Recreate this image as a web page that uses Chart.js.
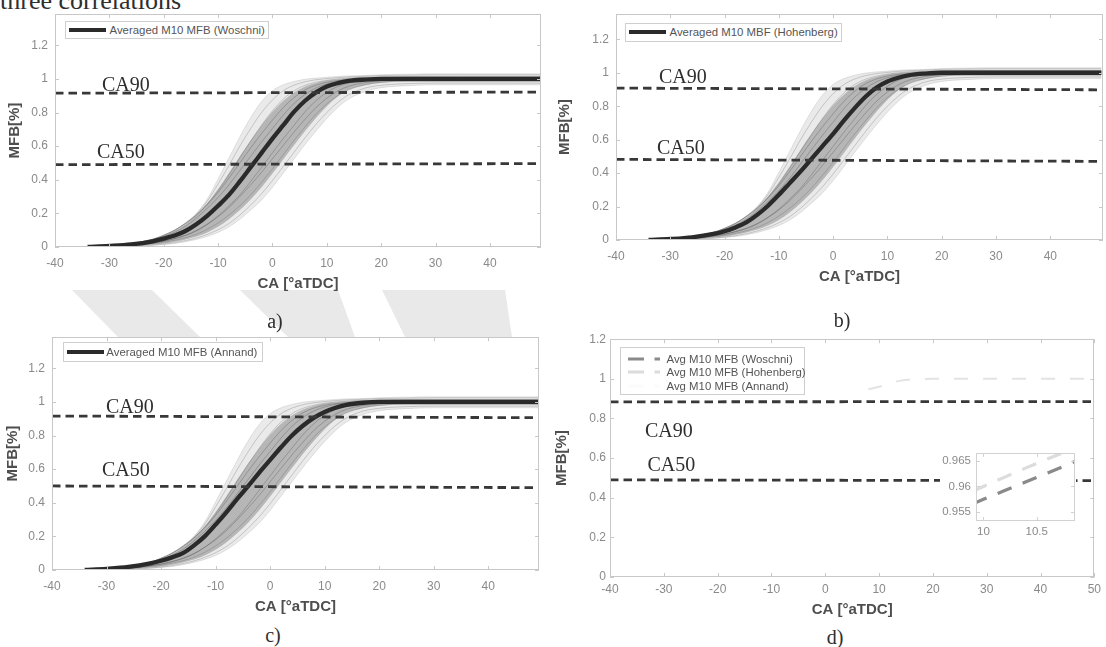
<!DOCTYPE html>
<html><head><meta charset="utf-8">
<script src="https://cdn.jsdelivr.net/npm/chart.js@4.4.1/dist/chart.umd.min.js"></script>
<style>
html,body{margin:0;padding:0;background:#fff;}
body{width:1106px;height:647px;position:relative;overflow:hidden;font-family:"Liberation Sans",Arial,Helvetica,sans-serif;}
canvas{position:absolute;}
.serif{position:absolute;font-family:"Liberation Serif","Times New Roman",serif;color:#2e2e2e;white-space:nowrap;line-height:20px;font-size:20px;}
.cap{text-align:center;width:100px;}
.legend{position:absolute;box-sizing:border-box;background:#fff;border:1px solid #cfcfcf;color:#555;font-size:11.4px;white-space:nowrap;}
.legend .row{position:absolute;left:0;height:14px;display:flex;align-items:center;}
.legend svg{display:block;}
#wm{position:absolute;left:0;top:0;}
</style></head>
<body>
<svg id="wm" width="1106" height="647"><g fill="#e9e9e9">
<polygon points="72,290 152,290 200,337 118,337"/>
<polygon points="240,290 338,290 355,337 288,337"/>
<polygon points="382,290 505,290 512,337 405,337"/>
</g></svg>
<div class="serif" style="left:0;top:-12.5px;font-size:26px;line-height:26px;">three correlations</div>
<script>
// ---------------- data ----------------
const caGrid = [-34,-30,-26,-22,-20,-18,-16,-14,-12,-10,-8,-6,-4,-2,0,2,4,6,8,10,12,14,17,20,25,30,35,40,45,49.4];
const avgWoschni   = [0,0.006,0.015,0.034,0.05,0.068,0.095,0.135,0.185,0.245,0.31,0.39,0.475,0.56,0.645,0.725,0.805,0.87,0.92,0.955,0.975,0.988,0.996,1,1,1,1,1,1,1];
const avgHohenberg = [0,0.006,0.016,0.036,0.052,0.075,0.105,0.15,0.205,0.27,0.34,0.41,0.485,0.56,0.635,0.715,0.79,0.858,0.912,0.948,0.97,0.985,0.995,1,1,1,1,1,1,1];
const avgAnnand    = [0,0.007,0.018,0.039,0.055,0.075,0.1,0.145,0.2,0.27,0.345,0.425,0.5,0.58,0.655,0.73,0.8,0.858,0.905,0.94,0.965,0.982,0.995,1,1,1,1,1,1,1];
// cycle-to-cycle cloud (envelopes and a few single cycles)
const earliestCycle = [0,0.006,0.018,0.045,0.07,0.1,0.145,0.2,0.285,0.405,0.53,0.655,0.77,0.865,0.93,0.965,0.985,0.998,1.005,1.01,1.015,1.018,1.02,1.025,1.028,1.03,1.03,1.03,1.03,1.03];
const latestCycle   = [0,0.002,0.005,0.01,0.015,0.021,0.031,0.045,0.063,0.087,0.12,0.165,0.22,0.28,0.355,0.44,0.525,0.61,0.69,0.765,0.83,0.88,0.925,0.948,0.96,0.965,0.965,0.965,0.965,0.965];
const coreEarly     = [0,0.007,0.019,0.045,0.066,0.095,0.135,0.19,0.26,0.345,0.44,0.54,0.635,0.725,0.805,0.87,0.92,0.955,0.976,0.99,0.998,1.004,1.008,1.012,1.015,1.015,1.015,1.015,1.015,1.015];
const coreLate      = [0,0.003,0.007,0.015,0.021,0.031,0.045,0.063,0.087,0.12,0.165,0.22,0.282,0.355,0.437,0.522,0.607,0.69,0.768,0.838,0.895,0.935,0.963,0.977,0.985,0.985,0.985,0.985,0.985,0.985];
const cycleA = [0,0.006,0.018,0.044,0.068,0.098,0.14,0.195,0.272,0.375,0.485,0.6,0.705,0.8,0.875,0.93,0.963,0.983,0.995,1.002,1.008,1.012,1.016,1.02,1.022,1.024,1.024,1.024,1.024,1.024];
const cycleB = [0,0.002,0.006,0.012,0.018,0.026,0.038,0.054,0.075,0.103,0.14,0.19,0.25,0.317,0.395,0.48,0.565,0.65,0.73,0.8,0.86,0.905,0.945,0.962,0.972,0.975,0.975,0.975,0.975,0.975];
const cycleC = [0,0.008,0.021,0.047,0.07,0.1,0.14,0.19,0.252,0.325,0.41,0.5,0.59,0.675,0.755,0.83,0.89,0.935,0.963,0.98,0.99,0.996,1,1.004,1.006,1.006,1.006,1.006,1.006,1.006];
const cycleD = [0,0.004,0.011,0.025,0.036,0.05,0.07,0.098,0.135,0.18,0.235,0.3,0.37,0.445,0.525,0.605,0.685,0.76,0.83,0.885,0.928,0.956,0.978,0.988,0.992,0.993,0.993,0.993,0.993,0.993];
const cycleE = [0,0.008,0.02,0.046,0.063,0.088,0.123,0.172,0.23,0.295,0.37,0.455,0.54,0.625,0.705,0.785,0.855,0.908,0.946,0.97,0.985,0.993,0.998,1.003,1.005,1.005,1.005,1.005,1.005,1.005];
const cycleF = [0,0.004,0.011,0.026,0.034,0.05,0.068,0.095,0.135,0.185,0.245,0.31,0.39,0.475,0.56,0.645,0.725,0.805,0.87,0.92,0.955,0.975,0.99,0.995,0.997,0.997,0.997,0.997,0.997,0.997];
const cycleG = [0,0.007,0.02,0.046,0.07,0.1,0.14,0.19,0.255,0.335,0.43,0.53,0.63,0.725,0.81,0.88,0.93,0.962,0.98,0.992,1,1.005,1.01,1.012,1.014,1.014,1.014,1.014,1.014,1.014];
const cycleH = [0,0.003,0.009,0.02,0.028,0.04,0.055,0.076,0.105,0.143,0.19,0.245,0.31,0.385,0.465,0.55,0.635,0.715,0.79,0.852,0.9,0.935,0.965,0.98,0.986,0.986,0.986,0.986,0.986,0.986];
// CA90 / CA50 reference lines (start, end)
const refX_A = [-40,49.4], ca90_A = [0.915,0.922], ca50_A = [0.49,0.496];
const refX_B = [-40,49.7], ca90_B = [0.908,0.898], ca50_B = [0.482,0.47];
const refX_C = [-40,49.3], ca90_C = [0.916,0.906], ca50_C = [0.5,0.49];
const refX_D = [-40,50],   ca90_D = [0.884,0.885], ca50_D = [0.49,0.486];
// panel d
const hohenbergVisibleX = [8,10,12,14,17,20,25,30,35,40,45,50];
const hohenbergVisibleY = [0.947,0.96,0.978,0.991,0.998,1,1,1,1,1,1,1];
const insetX = [9.9,10,10.2,10.4,10.6,10.8,10.9];
const insetWoschni   = [0.9566,0.9575,0.9592,0.9609,0.9626,0.9643,0.9652];
const insetHohenberg = [0.9591,0.96,0.9618,0.9636,0.9653,0.967,0.9679];
// ticks
const xTicksABC = [-40,-30,-20,-10,0,10,20,30,40];
const xTicksD = [-40,-30,-20,-10,0,10,20,30,40,50];
const yTicks = [0,0.2,0.4,0.6,0.8,1,1.2];
const insetXTicks = [10,10.5];
const insetYTicks = [0.955,0.96,0.965];

// ---------------- helpers ----------------
const FONT = '"Liberation Sans", Arial, Helvetica, sans-serif';
const xy = (xs, ys) => xs.map((x,i)=>({x, y: ys[i]}));

const boxPlugin = {
  id: 'box',
  beforeDraw(chart){
    const {ctx, chartArea:a} = chart;
    ctx.save(); ctx.fillStyle = '#fff';
    ctx.fillRect(a.left, a.top, a.right-a.left, a.bottom-a.top); ctx.restore();
  },
  afterDraw(chart, args, opts){
    const {ctx, chartArea:a, scales:{x, y}} = chart;
    ctx.save();
    ctx.strokeStyle = opts.color || '#c8c8c8'; ctx.lineWidth = 1;
    ctx.strokeRect(Math.round(a.left)+0.5, Math.round(a.top)+0.5, Math.round(a.right-a.left)-1, Math.round(a.bottom-a.top)-1);
    const tl = opts.tick || 4;
    ctx.beginPath();
    x.ticks.forEach(t=>{ const p = Math.round(x.getPixelForValue(t.value))+0.5;
      ctx.moveTo(p, a.bottom); ctx.lineTo(p, a.bottom-tl); ctx.moveTo(p, a.top); ctx.lineTo(p, a.top+tl); });
    y.ticks.forEach(t=>{ const p = Math.round(y.getPixelForValue(t.value))+0.5;
      ctx.moveTo(a.left, p); ctx.lineTo(a.left+tl, p); ctx.moveTo(a.right, p); ctx.lineTo(a.right-tl, p); });
    ctx.stroke(); ctx.restore();
  }
};

function makeChart(p){
  const c = document.createElement('canvas');
  c.width = p.w; c.height = p.h;
  c.style.left = p.x+'px'; c.style.top = p.y+'px';
  c.style.width = p.w+'px'; c.style.height = p.h+'px';
  if (p.bg) c.style.background = p.bg;
  document.body.appendChild(c);
  const tickFont = {family: FONT, size: p.tickSize || 12};
  const titleFont = {family: FONT, size: 15, weight: 'bold'};
  return new Chart(c, {
    type: 'line',
    data: {datasets: p.datasets},
    options: {
      responsive: false, animation: false, devicePixelRatio: 1,
      layout: {padding: {top: p.pt, right: p.pr, left: 0, bottom: 0}},
      elements: {point: {radius: 0, hoverRadius: 0}, line: {borderCapStyle: 'butt'}},
      plugins: {legend: {display: false}, tooltip: {enabled: false}, box: {color: p.boxColor || '#c8c8c8', tick: 4}},
      events: [],
      scales: {
        x: {
          type: 'linear', min: p.xmin, max: p.xmax,
          afterBuildTicks: s => { s.ticks = p.xTicks.map(v => ({value: v})); },
          afterFit: s => { s.height = p.xh; },
          grid: {display: false, drawTicks: false}, border: {display: false},
          ticks: {color: '#8a8a8a', font: tickFont, padding: p.xpad, maxRotation: 0, autoSkip: false, callback: v => String(v)},
          title: {display: !!p.xTitle, text: p.xTitle, color: '#4e4e4e', font: titleFont, padding: {top: 0, bottom: 0}}
        },
        y: {
          type: 'linear', min: p.ymin, max: p.ymax,
          afterBuildTicks: s => { s.ticks = p.yTicks.map(v => ({value: v})); },
          afterFit: s => { s.width = p.yw; },
          grid: {display: false, drawTicks: false}, border: {display: false},
          ticks: {color: '#8a8a8a', font: tickFont, padding: p.ypad, autoSkip: false, callback: v => String(v)},
          title: {display: !!p.yTitle, text: p.yTitle, color: '#4e4e4e', font: titleFont, padding: {top: p.ytp || 0, bottom: 0}}
        }
      }
    },
    plugins: [boxPlugin]
  });
}

const dashStyle = {borderColor: '#383838', borderWidth: 2.8, borderDash: [8.5, 5], fill: false, order: 0, tension: 0};
function cloudSets(avg, refX, ca90, ca50){
  const thin = (ys, c) => ({data: xy(caGrid, ys), borderColor: c, borderWidth: 0.7, fill: false, order: 2, cubicInterpolationMode: 'monotone'});
  return [
    Object.assign({data: xy(refX, ca90)}, dashStyle),
    Object.assign({data: xy(refX, ca50)}, dashStyle),
    {data: xy(caGrid, avg), borderColor: '#2a2a2a', borderWidth: 4.3, fill: false, order: 1, cubicInterpolationMode: 'monotone'},
    thin(cycleA, 'rgba(110,110,110,0.45)'),
    thin(cycleB, 'rgba(110,110,110,0.45)'),
    thin(cycleC, 'rgba(70,70,70,0.45)'),
    thin(cycleD, 'rgba(70,70,70,0.45)'),
    thin(cycleE, 'rgba(60,60,60,0.4)'),
    thin(cycleF, 'rgba(60,60,60,0.4)'),
    thin(cycleG, 'rgba(90,90,90,0.4)'),
    thin(cycleH, 'rgba(90,90,90,0.4)'),
    {data: xy(caGrid, latestCycle), borderColor: 'rgba(160,160,160,0.45)', borderWidth: 0.6, fill: false, order: 5, cubicInterpolationMode: 'monotone'},
    {data: xy(caGrid, earliestCycle), borderColor: 'rgba(160,160,160,0.45)', borderWidth: 0.6, fill: '-1', backgroundColor: 'rgba(150,150,150,0.2)', order: 5, cubicInterpolationMode: 'monotone'},
    {data: xy(caGrid, coreLate), borderColor: 'rgba(0,0,0,0)', borderWidth: 0, fill: false, order: 4, cubicInterpolationMode: 'monotone'},
    {data: xy(caGrid, coreEarly), borderColor: 'rgba(0,0,0,0)', borderWidth: 0, fill: '-1', backgroundColor: 'rgba(110,110,110,0.42)', order: 4, cubicInterpolationMode: 'monotone'}
  ];
}

const common = {xTitle: 'CA [°aTDC]', yTitle: 'MFB[%]', xh: 46, xpad: 9, ypad: 7, ymin: 0, yTicks: yTicks};
// panel a
makeChart(Object.assign({}, common, {x: 0, y: 0, w: 546, h: 293, pt: 10, pr: 5, yw: 55, ytp: 6,
  xmin: -40, xmax: 49.4, ymax: 1.385, xTicks: xTicksABC,
  datasets: cloudSets(avgWoschni, refX_A, ca90_A, ca50_A)}));
// panel b
makeChart(Object.assign({}, common, {x: 553, y: 0, w: 553, h: 286, pt: 9, pr: 3, yw: 63, ytp: 3,
  xmin: -40, xmax: 49.7, ymax: 1.35, xTicks: xTicksABC,
  datasets: cloudSets(avgHohenberg, refX_B, ca90_B, ca50_B)}));
// panel c
makeChart(Object.assign({}, common, {x: 0, y: 323, w: 543, h: 293, pt: 11, pr: 4, yw: 52, ytp: 3.5,
  xmin: -40, xmax: 49.3, ymax: 1.385, xTicks: xTicksABC,
  datasets: cloudSets(avgAnnand, refX_C, ca90_C, ca50_C)}));
// panel d
makeChart(Object.assign({}, common, {x: 553, y: 328, w: 553, h: 291, pt: 10, pr: 10, yw: 57, ytp: 0, xh: 42, xpad: 5, ypad: 4,
  xmin: -40, xmax: 50, ymax: 1.2, xTicks: xTicksD,
  datasets: [
    Object.assign({data: xy(refX_D, ca90_D)}, dashStyle),
    Object.assign({data: xy(refX_D, ca50_D)}, dashStyle),
    {data: xy(hohenbergVisibleX, hohenbergVisibleY), borderColor: '#e3e3e3', borderWidth: 2, borderDash: [14, 15], fill: false, order: 2, cubicInterpolationMode: 'monotone'}
  ]}));
// inset of panel d
makeChart({x: 940, y: 441, w: 136, h: 101, bg: '#fff', pt: 1, pr: 1, yw: 36, xh: 21, xpad: 4, ypad: 5, tickSize: 11.5,
  xmin: 9.93, xmax: 10.86, ymin: 0.9533, ymax: 0.9665, xTicks: insetXTicks, yTicks: insetYTicks, boxColor: '#d2d2d2',
  datasets: [
    {data: xy(insetX, insetWoschni), borderColor: '#8a8a8a', borderWidth: 3.2, borderDash: [15, 12], fill: false, order: 1, tension: 0},
    {data: xy(insetX, insetHohenberg), borderColor: '#dcdcdc', borderWidth: 3.2, borderDash: [15, 12], fill: false, order: 2, tension: 0}
  ]});

// ---------------- text overlays ----------------
function serif(text, left, baseline, cls){
  const d = document.createElement('div');
  d.className = 'serif' + (cls ? ' ' + cls : '');
  d.textContent = text;
  d.style.left = left + 'px';
  d.style.top = (baseline - 15.5) + 'px';
  document.body.appendChild(d);
}
serif('CA90', 102, 89.3); serif('CA50', 97, 156.7);
serif('CA90', 659, 81.7); serif('CA50', 657, 152);
serif('CA90', 106, 411.7); serif('CA50', 102, 474);
serif('CA90', 645, 435); serif('CA50', 647.5, 469);
serif('a)', 275-50, 326, 'cap'); serif('b)', 842-50, 325, 'cap');
serif('c)', 273-50, 640, 'cap'); serif('d)', 835-50, 642, 'cap');

function legend(left, top, w, h, rows){
  const L = document.createElement('div');
  L.className = 'legend';
  Object.assign(L.style, {left: left+'px', top: top+'px', width: w+'px', height: h+'px'});
  rows.forEach(r => {
    const row = document.createElement('div');
    row.className = 'row';
    row.style.top = (r.cy - 7) + 'px';
    row.style.left = r.sx + 'px';
    row.innerHTML = `<svg width="${r.sw}" height="14"><line x1="0" y1="7" x2="${r.sw}" y2="7" stroke="${r.color}" stroke-width="${r.lw}" ${r.dash ? `stroke-dasharray="${r.dash}"` : ''}/></svg><span style="margin-left:${r.gap}px">${r.text}</span>`;
    L.appendChild(row);
  });
  document.body.appendChild(L);
}
legend(64.5, 21, 204, 17.5, [{cy: 7.8, sx: 3.5, sw: 37, gap: 3.5, color: '#2a2a2a', lw: 4, text: 'Averaged M10 MFB (Woschni)'}]);
legend(625, 23.3, 217, 18.5, [{cy: 8.2, sx: 3, sw: 37, gap: 3.5, color: '#2a2a2a', lw: 4, text: 'Averaged M10 MBF (Hohenberg)'}]);
legend(62.8, 341.7, 200, 20, [{cy: 9, sx: 3, sw: 37, gap: 2.5, color: '#2a2a2a', lw: 4, text: 'Averaged M10 MFB (Annand)'}]);
legend(620, 346.7, 185, 48.3, [
  {cy: 11.2, sx: 6.5, sw: 32, gap: 7, color: '#8a8a8a', lw: 3, dash: '16 10.5', text: 'Avg M10 MFB (Woschni)'},
  {cy: 24.6, sx: 6.5, sw: 32, gap: 7, color: '#dcdcdc', lw: 3, dash: '16 10.5', text: 'Avg M10 MFB (Hohenberg)'},
  {cy: 37.9, sx: 6.5, sw: 32, gap: 7, color: '#fbfbfb', lw: 3, dash: '16 10.5', text: 'Avg M10 MFB (Annand)'}
]);
</script>
</body></html>
